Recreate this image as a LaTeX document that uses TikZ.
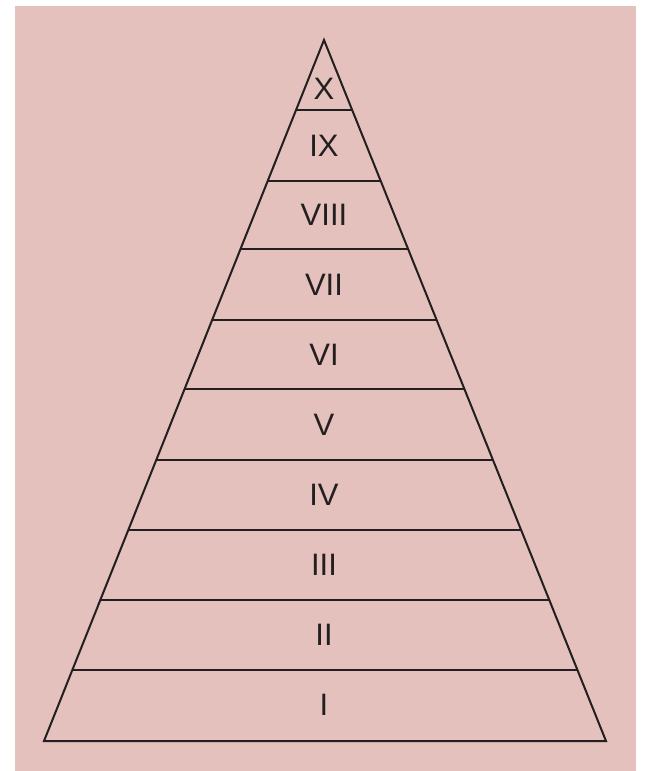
\documentclass[tikz,border=0pt]{standalone}
\usepackage{fontspec}
\setmainfont{Liberation Sans}
\definecolor{bgpink}{HTML}{E4C1BC}
\definecolor{inkc}{HTML}{231F20}
\tikzset{
  edge/.style={draw=inkc, line width=2pt, line join=miter},
  lvl/.style={font=\fontsize{31}{31}\selectfont, text=inkc, inner sep=0pt, anchor=center}
}
\begin{document}
\begin{tikzpicture}[x=1pt,y=-1pt]
\useasboundingbox (0,0) rectangle (647,771);
\fill[white] (0,0) rectangle (647,771);
\fill[bgpink] (15,6) rectangle (636,771);
\coordinate (apex) at (324,40);
\coordinate (bl) at (44,741);
\coordinate (br) at (606,741);
\draw[edge] (bl) -- (apex) -- (br) -- cycle;
\foreach \y [count=\i] in {110,181,249,320,389,460,530,600,670}{
  \path (apex) -- (bl) coordinate[pos={(\y-40)/701}] (L\i);
  \path (apex) -- (br) coordinate[pos={(\y-40)/701}] (R\i);
  \draw[edge] (L\i) -- (R\i);
}
\node[lvl] (n10) at (324,89) {X};
\node[lvl] (n9) at (324,145.5) {IX};
\node[lvl] (n8) at (324,215) {VIII};
\node[lvl] (n7) at (324,284.5) {VII};
\node[lvl] (n6) at (324,354.5) {VI};
\node[lvl] (n5) at (324,424.5) {V};
\node[lvl] (n4) at (324,495) {IV};
\node[lvl] (n3) at (324,565) {III};
\node[lvl] (n2) at (324,635) {II};
\node[lvl] (n1) at (324,705) {I};
\end{tikzpicture}
\end{document}
